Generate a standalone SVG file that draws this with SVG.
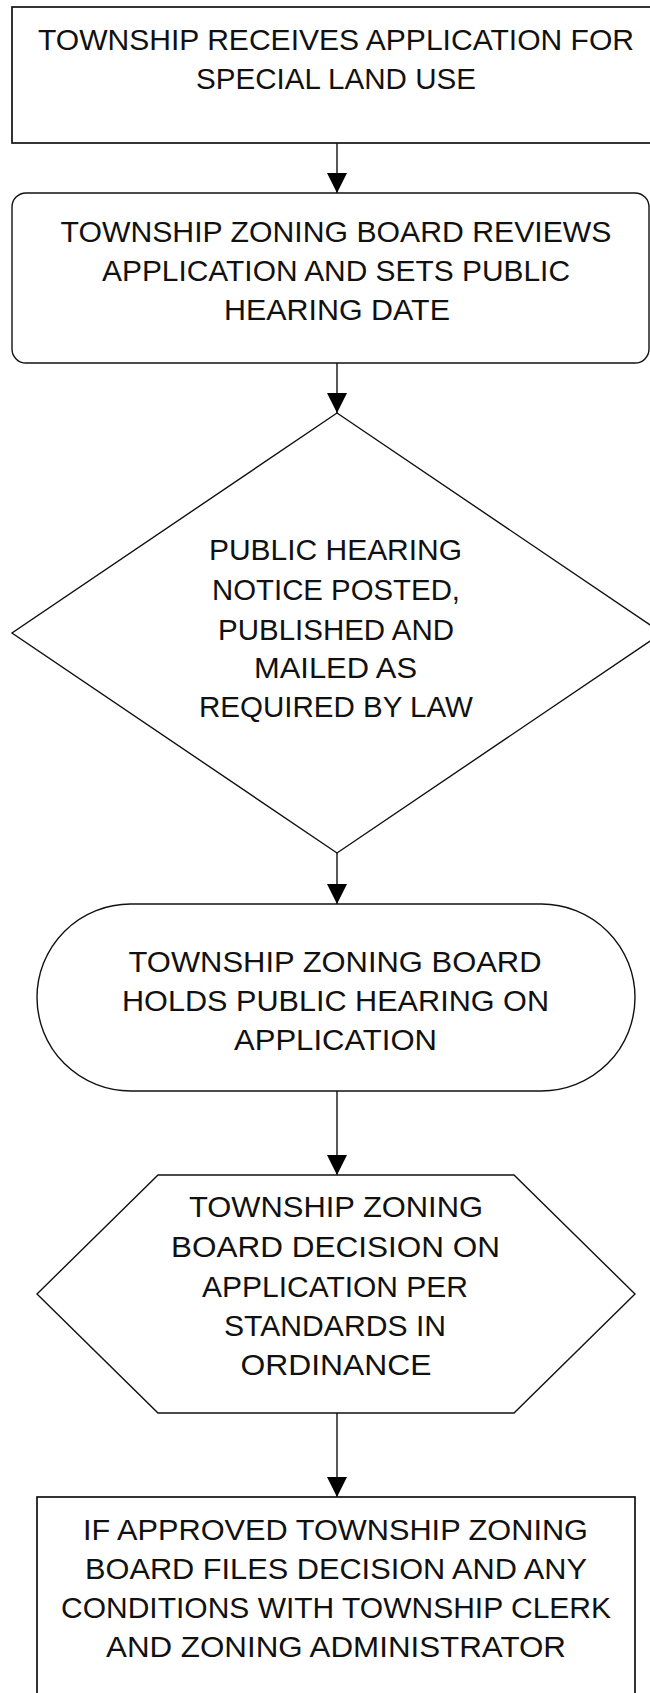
<svg xmlns="http://www.w3.org/2000/svg" width="650" height="1693" viewBox="0 0 650 1693">
<style>
.shape{fill:#fff;stroke:#111;stroke-width:1.4}
.t{font-family:"Liberation Sans",Arial,sans-serif;font-size:29px;fill:#111;text-anchor:middle}
.edge{stroke:#111;stroke-width:1.4;fill:none}
</style>
<defs>
<marker id="arr" markerWidth="20" markerHeight="20" refX="20" refY="10" orient="auto" markerUnits="userSpaceOnUse">
<path d="M0,0 L20,10 L0,20 Z" fill="#000"/>
</marker>
</defs>
<rect width="650" height="1693" fill="#fff"/>
<g id="connectors">
<line class="edge" x1="337" y1="143" x2="337" y2="193" marker-end="url(#arr)"/>
<line class="edge" x1="337" y1="363" x2="337" y2="413" marker-end="url(#arr)"/>
<line class="edge" x1="337" y1="853" x2="337" y2="904" marker-end="url(#arr)"/>
<line class="edge" x1="337" y1="1091" x2="337" y2="1175" marker-end="url(#arr)"/>
<line class="edge" x1="337" y1="1413" x2="337" y2="1497" marker-end="url(#arr)"/>
</g>
<g id="node1">
<rect class="shape" x="12" y="7" width="660" height="136" style="stroke-width:1.7"/>
<text class="t" x="336" y="50" textLength="596" lengthAdjust="spacingAndGlyphs">TOWNSHIP RECEIVES APPLICATION FOR</text>
<text class="t" x="336" y="89" textLength="280" lengthAdjust="spacingAndGlyphs">SPECIAL LAND USE</text>
</g>
<g id="node2">
<rect class="shape" x="12" y="193" width="637" height="170" rx="14" ry="14"/>
<text class="t" x="336" y="241.5" textLength="551" lengthAdjust="spacingAndGlyphs">TOWNSHIP ZONING BOARD REVIEWS</text>
<text class="t" x="336" y="281" textLength="468" lengthAdjust="spacingAndGlyphs">APPLICATION AND SETS PUBLIC</text>
<text class="t" x="337" y="320" textLength="226" lengthAdjust="spacingAndGlyphs">HEARING DATE</text>
</g>
<g id="node3">
<polygon class="shape" points="337,413 662,633 337,853 12,633"/>
<text class="t" x="335.5" y="560" textLength="253" lengthAdjust="spacingAndGlyphs">PUBLIC HEARING</text>
<text class="t" x="336" y="600" textLength="248" lengthAdjust="spacingAndGlyphs">NOTICE POSTED,</text>
<text class="t" x="336" y="640" textLength="236" lengthAdjust="spacingAndGlyphs">PUBLISHED AND</text>
<text class="t" x="335.5" y="678" textLength="163" lengthAdjust="spacingAndGlyphs">MAILED AS</text>
<text class="t" x="336" y="717" textLength="274" lengthAdjust="spacingAndGlyphs">REQUIRED BY LAW</text>
</g>
<g id="node4">
<rect class="shape" x="37" y="904" width="598" height="187" rx="93.5" ry="93.5"/>
<text class="t" x="335" y="972" textLength="413" lengthAdjust="spacingAndGlyphs">TOWNSHIP ZONING BOARD</text>
<text class="t" x="335.5" y="1011" textLength="427" lengthAdjust="spacingAndGlyphs">HOLDS PUBLIC HEARING ON</text>
<text class="t" x="335.5" y="1050" textLength="203" lengthAdjust="spacingAndGlyphs">APPLICATION</text>
</g>
<g id="node5">
<polygon class="shape" points="158,1175 514,1175 635,1294 514,1413 158,1413 37,1294"/>
<text class="t" x="336" y="1217" textLength="294" lengthAdjust="spacingAndGlyphs">TOWNSHIP ZONING</text>
<text class="t" x="335.5" y="1257" textLength="329" lengthAdjust="spacingAndGlyphs">BOARD DECISION ON</text>
<text class="t" x="335" y="1297" textLength="266" lengthAdjust="spacingAndGlyphs">APPLICATION PER</text>
<text class="t" x="335" y="1336" textLength="222" lengthAdjust="spacingAndGlyphs">STANDARDS IN</text>
<text class="t" x="336" y="1375" textLength="191" lengthAdjust="spacingAndGlyphs">ORDINANCE</text>
</g>
<g id="node6">
<rect class="shape" x="37" y="1497" width="598" height="210" style="stroke-width:1.7"/>
<text class="t" x="335.5" y="1540" textLength="505" lengthAdjust="spacingAndGlyphs">IF APPROVED TOWNSHIP ZONING</text>
<text class="t" x="336" y="1579" textLength="502" lengthAdjust="spacingAndGlyphs">BOARD FILES DECISION AND ANY</text>
<text class="t" x="336" y="1618" textLength="550" lengthAdjust="spacingAndGlyphs">CONDITIONS WITH TOWNSHIP CLERK</text>
<text class="t" x="336" y="1657" textLength="460" lengthAdjust="spacingAndGlyphs">AND ZONING ADMINISTRATOR</text>
</g>
</svg>
